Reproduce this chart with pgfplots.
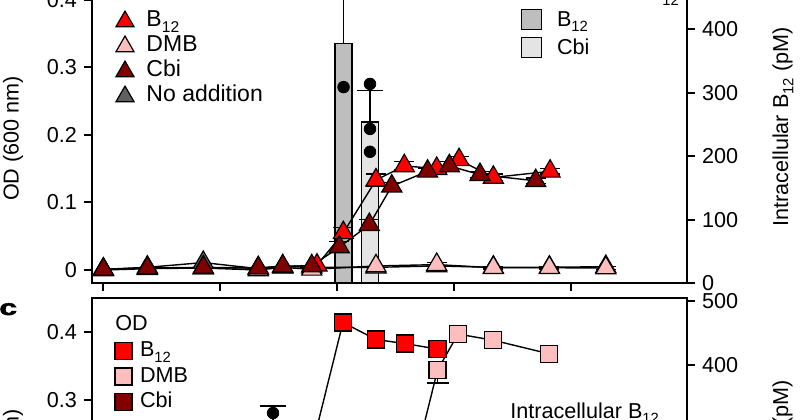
\documentclass[border=0pt]{standalone}
\usepackage{pgfplots}
\pgfplotsset{compat=1.18}
\usepackage{fontspec}
\setmainfont{Liberation Sans}
\definecolor{cB}{RGB}{255,0,0}
\definecolor{cD}{RGB}{255,190,190}
\definecolor{cC}{RGB}{128,0,0}
\definecolor{cN}{RGB}{96,96,96}
\definecolor{barB}{RGB}{190,190,190}
\definecolor{barC}{RGB}{228,228,228}
\newcommand\lf{\fontsize{10.8}{13}\selectfont}
\newcommand\lfb{\fontsize{11.5}{13}\selectfont}
\newcommand\sub[1]{\raisebox{-2.6pt}{\fontsize{7.4}{8}\selectfont #1}}
\newcommand\subl[1]{\raisebox{-2.8pt}{\fontsize{7.8}{8}\selectfont #1}}
\newcommand\subb[1]{\raisebox{-3.3pt}{\fontsize{7.4}{8}\selectfont #1}}
\pgfplotsset{
  base/.style={
    scale only axis, width=297.5pt, height=158.5pt, anchor=south west,
    xmin=-0.094, xmax=4.991,
    tick align=outside, major tick length=4pt,
    axis line style={line width=1pt},
    every tick/.style={black, line width=1pt},
    tick label style={font=\lf},
    /pgf/number format/assume math mode=true,
  },
  trileg/.style={legend image code/.code={\path[draw=none,fill=none] (-6pt,-3pt) rectangle (6pt,9.5pt); \draw[##1] plot coordinates {(0pt,2.6pt)};}},
  barleg/.style={legend image code/.code={\path[draw=none,fill=none] (-6pt,-3.5pt) rectangle (6pt,10.5pt); \draw[##1] (-5pt,-1.5pt) rectangle (5pt,8.5pt);}},
  sqleg/.style={legend image code/.code={\path[draw=none,fill=none] (-6pt,-3pt) rectangle (6pt,9.75pt); \draw[##1] plot coordinates {(0pt,3pt)};}},
  tri/.style={black, line width=0.7pt, mark=triangle*, mark size=5.8pt, mark options={draw=black, line width=0.6pt, fill=#1},
     /pgfplots/error bars/y dir=both, /pgfplots/error bars/y explicit,
     /pgfplots/error bars/error bar style={line width=0.6pt, black},
     /pgfplots/error bars/error mark options={rotate=90, mark size=5pt, line width=0.6pt, black}},
  sq/.style={black, line width=0.7pt, mark=square*, mark size=4.25pt, mark options={draw=black, line width=0.6pt, fill=#1},
     /pgfplots/error bars/y dir=both, /pgfplots/error bars/y explicit,
     /pgfplots/error bars/error bar style={line width=0.6pt, black},
     /pgfplots/error bars/error mark options={rotate=90, mark size=5.5pt, line width=0.6pt, black}},
  onebar/.style={ybar, bar width=8.5pt, bar shift=0pt, fill=#1, draw=black, line width=0.75pt,
     /pgfplots/error bars/y dir=plus, /pgfplots/error bars/y explicit,
     /pgfplots/error bars/error bar style={line width=0.75pt, black},
     /pgfplots/error bars/error mark options={rotate=90, mark size=6.5pt, line width=0.75pt, black}},
  dots/.style={only marks, mark=*, mark size=2.9pt, black},
  legs/.style={draw=none, fill=none, inner sep=0pt, outer sep=0pt, row sep=0pt, font=\lf,
     cells={anchor=base west}, nodes={inner sep=0pt, text height=7pt, text depth=1pt}},
  legtri/.style={only marks, mark=triangle*, mark size=5.2pt, mark options={fill=#1, draw=black, line width=0.6pt}, trileg},
  legsq/.style={only marks, mark=square*, mark size=4.25pt, mark options={fill=#1, draw=black, line width=0.6pt}, sqleg},
}
\begin{document}
\begin{tikzpicture}
\begin{scope}
\clip (0pt,0pt) rectangle (400pt,209.5pt);
% ---------------- top panel, right axis (bars)
\begin{axis}[base, at={(46pt,68pt)},
  ymin=0, ymax=500,
  axis x line=none, axis y line*=right,
  ytick={0,100,200,300,400,500},
  ylabel={Intracellular B\sub{12} (pM)},
  every axis y label/.style={at={(axis description cs:1.1613,0.492)}, rotate=90, anchor=center, font=\lf},
  legend style={legs, at={(0.7185,0.8748)}, anchor=north west, column sep=6.75pt},
]
\addplot[forget plot, onebar=barB] coordinates {(2.056,378) +- (0,160)};
\addplot[forget plot, onebar=barC] coordinates {(2.282,254) +- (0,50)};
\addplot[forget plot, dots] coordinates {(2.056,309) (2.056,470) (2.282,314) (2.282,243) (2.282,207)};
\addlegendimage{fill=barB, draw=black, line width=0.75pt, barleg}
\addlegendentry{B\sub{12}}
\addlegendimage{fill=barC, draw=black, line width=0.75pt, barleg}
\addlegendentry{Cbi}
\node[anchor=base west, inner sep=0pt, font=\lf] at (rel axis cs:0.7361,0.8959) {Intracellular B\subb{12}};
\end{axis}
% ---------------- top panel, left axis (OD)
\begin{axis}[base, at={(46pt,68pt)},
  ymin=-0.0192, ymax=0.4497,
  xtick={0,1,2,3,4}, xticklabels={}, xtick pos=lower, ytick pos=left,
  ytick={0,0.1,0.2,0.3,0.4},
  ylabel={OD (600 nm)},
  every axis y label/.style={at={(axis description cs:-0.1328,0.4558)}, rotate=90, anchor=center, font=\lf},
  legend style={legs, font=\lfb, at={(0.0353,0.8685)}, anchor=north west, column sep=4.75pt},
]
\addplot[forget plot, tri=cN] coordinates {(0.003,0.001) (0.379,0.004) (0.857,0.011) (1.327,0.002) (1.536,0.005) (1.784,0.004) (2.333,0.004) (2.852,0.006) (3.336,0.004) (3.815,0.004) (4.297,0.005)};
\addplot[forget plot, tri=cD] coordinates {(0.003,0.000) (0.379,0.002) (0.857,0.003) (1.327,0.000) (1.536,0.004) (1.784,0.001) (2.333,0.006) (2.852,0.008) +- (0,0.003) (3.336,0.0034) +- (0,0.002) (3.815,0.0034) +- (0,0.002) (4.297,0.003) +- (0,0.002)};
\addplot[forget plot, tri=cB] coordinates {(0.003,0.001) (0.379,0.003) (0.857,0.003) (1.327,0.003) (1.536,0.005) (1.829,0.007) (2.054,0.055) +- (0,0.008) (2.333,0.133) +- (0,0.009) (2.575,0.154) +- (0,0.006) (2.852,0.150) +- (0,0.005) (3.043,0.163) +- (0,0.005) (3.336,0.137) +- (0,0.005) (3.821,0.146) +- (0,0.004)};
\addplot[forget plot, tri=cC] coordinates {(0.003,0.001) (0.379,0.003) (0.857,0.004) (1.327,0.003) (1.536,0.006) (1.784,0.006) (2.020,0.034) +- (0,0.008) (2.276,0.067) +- (0,0.008) (2.468,0.124) +- (0,0.006) (2.774,0.146) +- (0,0.005) (2.960,0.154) +- (0,0.006) (3.222,0.141) +- (0,0.005) (3.698,0.132) +- (0,0.004)};
\addlegendimage{legtri=cB}
\addlegendentry{B\subl{12}}
\addlegendimage{legtri=cD}
\addlegendentry{DMB}
\addlegendimage{legtri=cC}
\addlegendentry{Cbi}
\addlegendimage{legtri=cN}
\addlegendentry{No addition}
\end{axis}
% ---------------- bottom panel, right axis
\begin{axis}[base, at={(46pt,-98pt)},
  ymin=9.4, ymax=504.7,
  axis x line=none, axis y line*=right,
  ytick={100,200,300,400,500},
  ylabel={Intracellular B\sub{12} (pM)},
  every axis y label/.style={at={(axis description cs:1.1613,0.4274)}, rotate=90, anchor=center, font=\lf},
]
\addplot[forget plot, onebar=barB] coordinates {(1.453,290) +- (0,46)};
\addplot[forget plot, dots] coordinates {(1.453,325)};
\node[anchor=base west, inner sep=0pt, font=\lf] at (rel axis cs:0.7025,0.6205) {Intracellular B\sub{12}};
\end{axis}
% ---------------- bottom panel, left axis
\begin{axis}[base, at={(46pt,-98pt)},
  ymin=-0.016, ymax=0.45,
  xtick={0,1,2,3,4}, xtick pos=lower, ytick pos=left,
  ytick={0,0.1,0.2,0.3,0.4},
  ylabel={OD (600 nm)},
  every axis y label/.style={at={(axis description cs:-0.1328,0.4527)}, rotate=90, anchor=center, font=\lf},
  legend style={legs, at={(0.0328,0.8754)}, anchor=north west, column sep=2.25pt},
]
\addplot[forget plot, sq=cD] coordinates {(2.333,0.05) (2.573,0.146) (2.859,0.344) -= (0,0.019) (3.034,0.397) (3.333,0.388) (3.812,0.368)};
\addplot[forget plot, sq=cB] coordinates {(1.536,0.08) (1.778,0.225) (2.051,0.414) (2.333,0.389) (2.578,0.383) (2.859,0.375)};
\addlegendimage{legsq=cB}
\addlegendentry{B\sub{12}}
\addlegendimage{legsq=cD}
\addlegendentry{DMB}
\addlegendimage{legsq=cC}
\addlegendentry{Cbi}
\node[anchor=base west, inner sep=0pt, font=\lf] at (rel axis cs:0.0387,0.8959) {OD};
\end{axis}
\node[anchor=base west, inner sep=0pt] at (-0.5pt,52pt) {\scalebox{1.45}[1]{\fontspec{Liberation Sans}[FakeBold=2]\fontsize{11}{12}\selectfont\bfseries c}};
\end{scope}
\pgfresetboundingbox
\path[use as bounding box] (0pt,0pt) rectangle (400pt,209.5pt);
\end{tikzpicture}
\end{document}
